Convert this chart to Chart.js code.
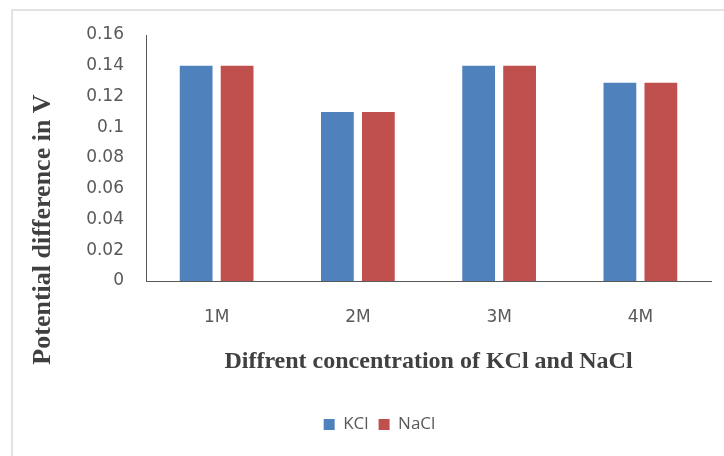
<!DOCTYPE html>
<html>
<head>
<meta charset="utf-8">
<script src="https://cdn.jsdelivr.net/npm/chart.js@4/dist/chart.umd.min.js"></script>
<style>
html,body{margin:0;padding:0;background:#ffffff;overflow:hidden}
#wrap{width:724px;height:456px;position:relative}
</style>
</head>
<body>
<div id="wrap"><canvas id="c" width="724" height="456"></canvas></div>
<script>
const categories = ['1M', '2M', '3M', '4M'];
const seriesNames = ['KCl', 'NaCl'];
const kclValues = [0.14, 0.11, 0.14, 0.129];
const naclValues = [0.14, 0.11, 0.14, 0.129];
const yTickLabels = ['0', '0.02', '0.04', '0.06', '0.08', '0.1', '0.12', '0.14', '0.16'];
const xTitle = 'Diffrent concentration of KCl and NaCl';
const yTitle = 'Potential difference in V';

Chart.defaults.font.family = "'DejaVu Sans', sans-serif";

const framePlugin = {
  id: 'frame',
  beforeDraw(chart) {
    const ctx = chart.ctx;
    ctx.save();
    ctx.strokeStyle = '#d9d9d9';
    ctx.lineWidth = 1.5;
    ctx.beginPath();
    ctx.moveTo(12, chart.height);
    ctx.lineTo(12, 10);
    ctx.lineTo(chart.width, 10);
    ctx.stroke();
    ctx.restore();
  }
};

const legendShift = {
  id: 'legendShift',
  afterLayout(chart) {
    const lg = chart.legend;
    if (!lg) return;
    const d = 379.5 - (lg.left + lg.right) / 2;
    lg.left += d;
    lg.right += d;
  }
};

new Chart(document.getElementById('c'), {
  type: 'bar',
  data: {
    labels: categories,
    datasets: [
      { label: seriesNames[0], data: kclValues, backgroundColor: '#4F81BD', borderWidth: 0 },
      { label: seriesNames[1], data: naclValues, backgroundColor: '#C0504D', borderWidth: 0 }
    ]
  },
  options: {
    responsive: false,
    animation: false,
    devicePixelRatio: 1,
    layout: { padding: { left: 0, right: 13, top: 35, bottom: 13 } },
    datasets: { bar: { categoryPercentage: 0.58, barPercentage: 0.8 } },
    plugins: {
      legend: {
        position: 'bottom',
        labels: {
          boxWidth: 11,
          boxHeight: 11,
          padding: 10,
          color: '#595959',
          font: { family: "'Open Sans', sans-serif", size: 17 }
        }
      },
      tooltip: { enabled: false }
    },
    scales: {
      x: {
        grid: { display: false, drawTicks: false },
        border: { display: true, color: '#595959', width: 1 },
        ticks: { padding: 26, color: '#595959', font: { size: 17 } },
        title: {
          display: true,
          text: xTitle,
          color: '#404040',
          font: { family: "'Liberation Serif', serif", size: 24, weight: 'bold' },
          padding: { top: 0, bottom: 30 }
        },
        afterFit(s) { s.height = 125; }
      },
      y: {
        min: 0,
        max: 0.16,
        grid: { display: false, drawTicks: false },
        border: { display: true, color: '#595959', width: 1 },
        ticks: {
          stepSize: 0.02,
          padding: 22,
          color: '#595959',
          font: { size: 17 },
          callback: (v, i) => yTickLabels[i]
        },
        title: {
          display: true,
          text: yTitle + ' '.repeat(22),
          color: '#404040',
          font: { family: "'Liberation Serif', serif", size: 26, weight: 'bold' },
          padding: { top: 28, bottom: 0 }
        },
        afterFit(s) { s.width = 146; }
      }
    }
  },
  plugins: [framePlugin, legendShift]
});
</script>
</body>
</html>
